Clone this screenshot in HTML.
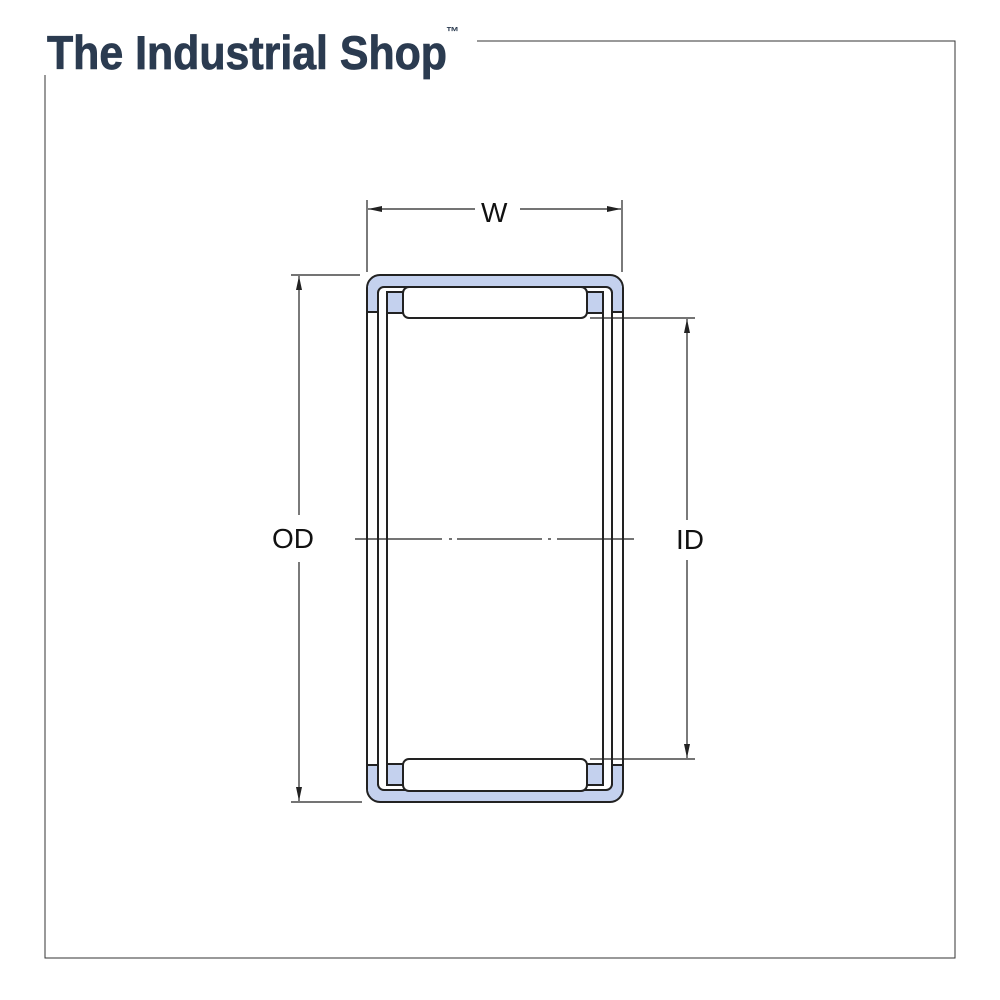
<!DOCTYPE html>
<html><head><meta charset="utf-8"><style>html,body{margin:0;padding:0;background:#fff}svg{display:block}</style></head>
<body>
<svg width="1000" height="1000" viewBox="0 0 1000 1000" xmlns="http://www.w3.org/2000/svg">
<defs>
<marker id="a" viewBox="0 0 14 8" refX="14" refY="4" markerWidth="14" markerHeight="8" markerUnits="userSpaceOnUse" orient="auto-start-reverse"><path d="M0,1 L14,4 L0,7 z" fill="#222"/></marker>
</defs>
<!-- frame -->
<polyline points="477,41 955,41 955,958 45,958 45,75" fill="none" stroke="#333" stroke-width="1"/>
<text x="47" y="69" font-family="Liberation Sans, sans-serif" font-weight="bold" font-size="47" fill="#2b3b50" stroke="#2b3b50" stroke-width="0.8" textLength="400" lengthAdjust="spacingAndGlyphs">The Industrial Shop</text>
<text x="446" y="36" font-family="Liberation Sans, sans-serif" font-weight="bold" font-size="13" fill="#2b3b50">™</text>

<!-- bearing -->
<g stroke="#222" stroke-width="2" fill="none">
<rect x="367" y="275" width="256" height="527" rx="13" fill="#c4d1ee"/>
<rect x="378" y="287" width="234" height="503" rx="6" fill="#fff"/>
</g>
<g fill="#c4d1ee" stroke="none">
<rect x="368" y="286" width="9" height="26"/>
<rect x="613" y="286" width="9" height="26"/>
<rect x="368" y="765" width="9" height="26"/>
<rect x="613" y="765" width="9" height="26"/>
<rect x="388" y="292" width="15" height="21"/>
<rect x="587" y="292" width="15" height="21"/>
<rect x="388" y="764" width="15" height="21"/>
<rect x="587" y="764" width="15" height="21"/>
</g>
<g stroke="#222" stroke-width="2" fill="none">
<rect x="367" y="312" width="11" height="453" fill="#fff"/>
<rect x="612" y="312" width="11" height="453" fill="#fff"/>
<path d="M367,290 L367,787"/>
<path d="M623,290 L623,787"/>
<path d="M378,292 L378,785 M612,292 L612,785"/>
<path d="M387,313 L387,292 L403,292 M387,313 L387,764 M387,764 L387,785 L403,785"/>
<path d="M603,313 L603,292 L587,292 M603,313 L603,764 M603,764 L603,785 L587,785"/>
<path d="M387,313 L403,313 M587,313 L603,313 M387,764 L403,764 M587,764 L603,764"/>
<rect x="403" y="287" width="184" height="31" rx="6" fill="#fff"/>
<rect x="403" y="759" width="184" height="32" rx="6" fill="#fff"/>
</g>

<!-- dimensions -->
<g stroke="#222" stroke-width="1.2" fill="none">
<line x1="367" y1="200" x2="367" y2="272"/>
<line x1="622" y1="200" x2="622" y2="272"/>
<line x1="368" y1="209" x2="475" y2="209" marker-start="url(#a)"/>
<line x1="520" y1="209" x2="621" y2="209" marker-end="url(#a)"/>
<line x1="291" y1="275" x2="360" y2="275"/>
<line x1="291" y1="802" x2="362" y2="802"/>
<line x1="299" y1="276" x2="299" y2="515" marker-start="url(#a)"/>
<line x1="299" y1="562" x2="299" y2="801" marker-end="url(#a)"/>
<line x1="590" y1="318" x2="695" y2="318"/>
<line x1="590" y1="759" x2="695" y2="759"/>
<line x1="687" y1="319" x2="687" y2="520" marker-start="url(#a)"/>
<line x1="687" y1="560" x2="687" y2="758" marker-end="url(#a)"/>
<path d="M355,539 L442,539 M449,539 L452,539 M457,539 L542,539 M548,539 L551,539 M557,539 L634,539"/>
</g>
<g font-family="Liberation Sans, sans-serif" font-size="28" fill="#111">
<text x="272" y="548">OD</text>
<text x="676" y="549">ID</text>
<text x="481" y="222">W</text>
</g>
</svg>
</body></html>
